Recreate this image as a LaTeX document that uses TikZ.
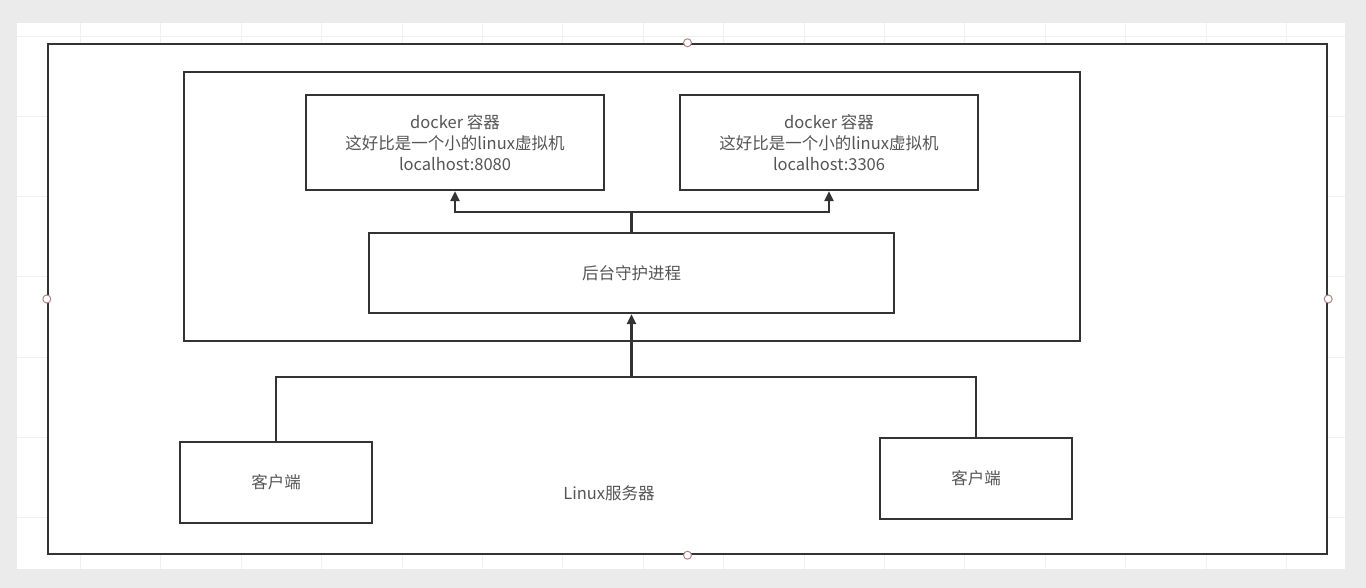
\documentclass[tikz,border=0pt]{standalone}
\usepackage{xcolor}
\usepackage{fontspec}
\usepackage{tikz}
\setmainfont{Noto Sans CJK SC}
\usetikzlibrary{arrows.meta}
\definecolor{canvasgray}{HTML}{EBEBEB}
\definecolor{gridgray}{HTML}{F1F1F1}
\definecolor{linegray}{HTML}{333333}
\definecolor{textgray}{HTML}{555555}
\definecolor{handlered}{HTML}{B08484}
\newcommand*{\mytextstyle}{\fontsize{16.5}{21}\selectfont\color{textgray}}
\tikzset{
  boxnode/.style = {draw = linegray, line width = 2.4pt, fill = white,
    inner sep = 0pt, align = center, font = \mytextstyle},
  linkline/.style = {draw = linegray, line width = 2.4pt},
  linkarrow/.style = {linkline, -{Triangle[length = 10pt, width = 9pt]}},
  handle/.style = {circle, draw = handlered, fill = white, line width = 1pt,
    inner sep = 0pt, minimum size = 8pt}
}

\begin{document}
\begin{tikzpicture}[x = 1pt, y = -1pt]
  % editor background and white page with faint grid
  \fill[canvasgray] (0,0) rectangle (1366,588);
  \useasboundingbox (0,0) rectangle (1366,588);
  \fill[white] (17,23) rectangle (1345,569);
  \begin{scope}
    \clip (17,23) rectangle (1345,569);
    \foreach \gx in {1,...,16}
      \draw[gridgray, line width = 1pt] (80.4*\gx,23) -- (80.4*\gx,569);
    \foreach \gy in {0,...,6}
      \draw[gridgray, line width = 1pt] (17,37+80*\gy) -- (1345,37+80*\gy);
  \end{scope}
  % boxes
  \node[boxnode, minimum width = 1279pt, minimum height = 510pt]
    (server) at (687.5,299) {};
  \node[font = \mytextstyle] (serverlabel) at (609,493) {Linux服务器};
  \node[boxnode, minimum width = 896pt, minimum height = 269pt]
    (engine) at (632,206.5) {};
  \node[boxnode, minimum width = 298pt, minimum height = 95pt]
    (dockA) at (455,142.5) {docker 容器\\这好比是一个小的linux虚拟机\\localhost:8080};
  \node[boxnode, minimum width = 298pt, minimum height = 95pt]
    (dockB) at (829,142.5) {docker 容器\\这好比是一个小的linux虚拟机\\localhost:3306};
  \node[boxnode, minimum width = 525pt, minimum height = 80pt]
    (daemon) at (631.5,273) {后台守护进程};
  \node[boxnode, minimum width = 192pt, minimum height = 81pt]
    (clientA) at (276,482.5) {客户端};
  \node[boxnode, minimum width = 192pt, minimum height = 81pt]
    (clientB) at (976,478.5) {客户端};
  % connectors
  \coordinate (split) at (631.5,212);
  \coordinate (join) at (631.5,377);
  \draw[linkline] (daemon.north) -- (split);
  \draw[linkarrow] (split) -| (dockA.south);
  \draw[linkarrow] (split) -| (dockB.south);
  \draw[linkline] (clientA.north) |- (join);
  \draw[linkline] (clientB.north) |- (join);
  \draw[linkarrow] (join) -- (daemon.south);
  % selection handles of the server box
  \foreach \anc in {north, south, east, west}
    \node[handle] at (server.\anc) {};
\end{tikzpicture}
\end{document}
